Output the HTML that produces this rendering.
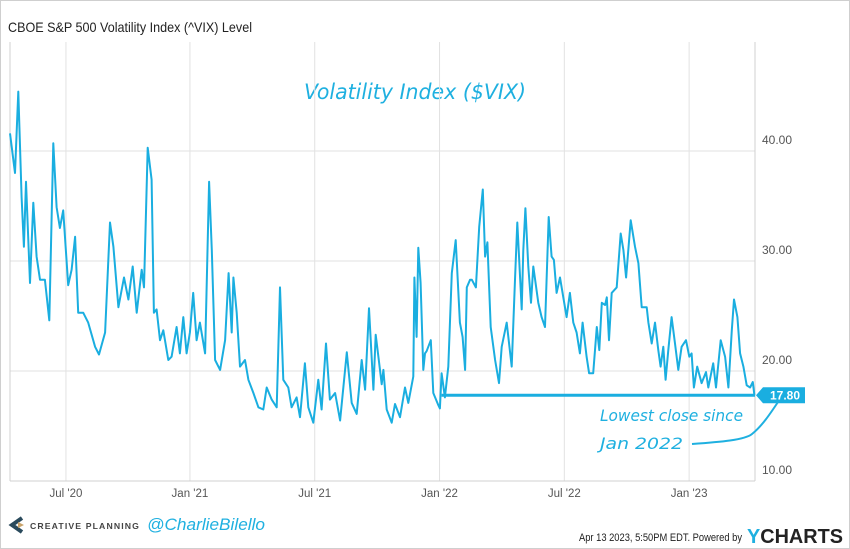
<!DOCTYPE html>
<html><head><meta charset="utf-8"><style>
html,body{margin:0;padding:0;background:#fff}
body{width:850px;height:549px;position:relative;overflow:hidden;font-family:"Liberation Sans",sans-serif}
.frame{position:absolute;left:0;top:0;width:848px;height:547px;border:1px solid #cfcfcf}
</style></head><body>
<div class="frame"></div>
<svg id="chart" width="850" height="549" style="position:absolute;left:0;top:0">
<text x="8" y="32" font-size="14" fill="#222" textLength="244" lengthAdjust="spacingAndGlyphs">CBOE S&amp;P 500 Volatility Index (^VIX) Level</text>
<text x="415" y="99" font-size="21" font-style="italic" fill="#1fb0e0" text-anchor="middle" textLength="222" lengthAdjust="spacingAndGlyphs" font-family="DejaVu Sans, sans-serif">Volatility Index ($VIX)</text>
<g id="grid"></g><g id="series"></g><g id="overlay"></g>
<text x="600" y="421" font-size="16" font-style="italic" fill="#1fb0e0" textLength="143" lengthAdjust="spacingAndGlyphs" font-family="DejaVu Sans, sans-serif">Lowest close since</text>
<text x="600" y="449" font-size="16" font-style="italic" fill="#1fb0e0" textLength="83" lengthAdjust="spacingAndGlyphs" font-family="DejaVu Sans, sans-serif">Jan 2022</text>
<path d="M692 444 C720 442,745 440,752 434 C762 426,770 414,778 402" fill="none" stroke="#1fb0e0" stroke-width="2"/>
<g>
<path d="M22 518 L12 525 L22 532" fill="none" stroke="#2a4a5c" stroke-width="4"/>
<path d="M18 522 L24 525 L18 528Z" fill="#c9a36a"/>
</g>
<text x="30" y="529" font-size="8.5" font-weight="bold" letter-spacing="1.1" fill="#444" textLength="110" lengthAdjust="spacingAndGlyphs">CREATIVE PLANNING</text>
<text x="147" y="530" font-size="17" font-style="italic" fill="#1fb0e0" textLength="118" lengthAdjust="spacingAndGlyphs">@CharlieBilello</text>
<text x="579" y="541" font-size="11" fill="#222" textLength="163" lengthAdjust="spacingAndGlyphs">Apr 13 2023, 5:50PM EDT.  Powered by</text>
<text x="747" y="543" font-size="20" font-weight="bold" fill="#222" textLength="96" lengthAdjust="spacingAndGlyphs"><tspan fill="#1fb0e0">Y</tspan>CHARTS</text>
</svg>
<script>
const months=[0,0.24,0.40,0.56,0.67,0.77,0.96,1.12,1.28,1.44,1.68,1.89,2.08,2.24,2.40,2.56,2.80,2.96,3.13,3.28,3.52,3.76,4.09,4.28,4.57,4.81,4.97,5.21,5.48,5.69,5.90,6.09,6.33,6.44,6.62,6.81,6.92,7.05,7.21,7.37,7.61,7.77,8.01,8.17,8.33,8.49,8.65,8.81,8.97,9.13,9.38,9.57,9.70,9.86,10.10,10.34,10.51,10.66,10.74,10.90,11.06,11.30,11.46,11.70,11.94,12.18,12.34,12.58,12.82,12.98,13.14,13.38,13.54,13.78,13.94,14.18,14.34,14.58,14.82,14.98,15.19,15.38,15.63,15.87,16.19,16.43,16.67,16.91,17.07,17.26,17.47,17.58,17.71,17.87,17.95,18.11,18.35,18.51,18.75,18.99,19.15,19.39,19.44,19.55,19.63,19.74,19.87,19.95,20.03,20.23,20.35,20.59,20.67,20.75,20.91,21.07,21.24,21.43,21.63,21.76,21.88,21.96,22.12,22.20,22.40,22.56,22.73,22.84,22.95,23.11,23.32,23.51,23.64,23.88,24.12,24.28,24.39,24.60,24.68,24.78,24.92,25.05,25.16,25.40,25.56,25.72,25.90,26.04,26.15,26.28,26.44,26.60,26.76,26.92,27.08,27.24,27.40,27.53,27.72,27.84,28.04,28.21,28.33,28.45,28.61,28.69,28.80,28.93,29.17,29.36,29.49,29.62,29.84,30.05,30.21,30.37,30.61,30.69,30.85,31.01,31.17,31.28,31.41,31.52,31.65,31.81,31.97,32.13,32.29,32.50,32.66,32.77,32.88,33.04,33.25,33.46,33.57,33.81,33.94,34.17,34.38,34.54,34.70,34.81,34.97,35.10,35.26,35.42,35.58,35.71,35.79];
const vix=[41.6,38,45.4,35.8,31.3,37.2,28,35.3,30.4,28.3,28.3,24.6,40.7,34.9,33,34.6,27.8,29.2,32.2,25.3,25.3,24.4,22.2,21.5,23.5,33.5,31.3,25.8,28.5,26.5,29.5,25.3,29.2,27.6,40.3,37.4,25.3,25.6,22.8,23.7,21,21.3,24,21.6,24.9,21.6,23.5,27.1,22.8,24.4,21.6,37.2,31,21,20.1,22.8,28.9,23.5,28.5,25.3,20.4,21,19.2,18,16.7,16.5,18.5,17.4,16.7,27.6,19.2,18.5,16.7,17.6,15.8,20.7,16.7,15.3,19.2,16.5,22.5,17.4,18,15.5,21.7,17.1,16.1,21,18.3,25.7,18.3,23.3,21.3,18.8,20.1,16.5,15.3,17,15.8,18.5,17.1,19.5,28.5,23.1,31.2,28,20.1,21.6,21.8,22.8,18,16.9,16.6,19.8,17.6,20.4,28.9,31.9,24.4,23.1,20.1,27.6,28.3,28.3,27.6,33.1,36.5,30.4,31.7,24,21,18.9,22.2,24.4,20.4,28.3,33.5,25.6,31,34.8,29.5,26.2,29.5,26.2,24.9,24,34,30.4,30.1,27.1,28.5,26.7,24.9,27.1,24.4,23.5,21.6,24.4,21.3,19.8,19.8,24,21.9,26.2,26,26.7,22.8,27.1,27.6,32.5,31,28.5,33.7,31.3,29.8,25.8,25.8,24.4,22.5,24.4,21.9,20.4,22.2,19.2,21.9,24.9,22.5,20.1,22.2,22.8,21.3,21.6,18.5,20.4,18.9,19.9,18.5,20.7,18.5,22.8,21.3,18.5,23.7,26.5,24.9,21.6,20.4,18.7,18.5,19,17.8];
const xTickLabels=["Jul '20","Jan '21","Jul '21","Jan '22","Jul '22","Jan '23"];
const xTickMonths=[2.69,8.65,14.65,20.65,26.65,32.65];
const yTicks=[10,20,30,40];
const lowSinceMonth=20.75;

const L=10,R=755,T=42,B=481;
const xS=m=>L+m*20.8;
const yS=v=>B-(v-10)*11;
const NS="http://www.w3.org/2000/svg";
function mk(tag,attrs,parent){const e=document.createElementNS(NS,tag);for(const k in attrs)e.setAttribute(k,attrs[k]);parent.appendChild(e);return e;}
const grid=document.getElementById('grid'),series=document.getElementById('series'),ov=document.getElementById('overlay');

yTicks.forEach(v=>{
  if(v>10){const l=mk('line',{x1:L,x2:R,y1:yS(v),y2:yS(v),stroke:'#e2e2e2','stroke-width':1},grid);
  
  }
  const t=mk('text',{x:762,y:yS(v)-7,'font-size':12,fill:'#555'},grid);
  t.textContent=v.toFixed(2);
  
  
});
xTickMonths.forEach((m,i)=>{
  const l=mk('line',{x1:xS(m),x2:xS(m),y1:T,y2:B,stroke:'#e2e2e2','stroke-width':1},grid);
  
  
  const t=mk('text',{x:xS(m),y:497,'font-size':11.5,fill:'#555','text-anchor':'middle'},grid);
  t.textContent=xTickLabels[i];
  
  
});
const fl=mk('line',{x1:L,x2:L,y1:T,y2:B,stroke:'#d0d0d0'},grid);


const rl=mk('line',{x1:R,x2:R,y1:T,y2:B,stroke:'#d0d0d0'},grid);


const bl=mk('line',{x1:L,x2:R,y1:B,y2:B,stroke:'#d0d0d0'},grid);



const d=months.map((m,i)=>(i?'L':'M')+xS(m).toFixed(1)+' '+yS(vix[i]).toFixed(1)).join(' ');
const p=mk('path',{d:d,fill:'none',stroke:'#1aaee0','stroke-width':2,'stroke-linejoin':'round'},series);



const last=vix[vix.length-1],ly=yS(last);
const hl=mk('line',{x1:xS(lowSinceMonth),x2:R,y1:ly,y2:ly,stroke:'#1aaee0','stroke-width':3},ov);


const tag=mk('path',{d:`M${R+1} ${ly} L${R+8} ${ly-8} L${R+50} ${ly-8} L${R+50} ${ly+8} L${R+8} ${ly+8}Z`,fill:'#1aaee0'},ov);


const tt=mk('text',{x:R+30,y:ly+4.5,'font-size':12,'font-weight':'bold',fill:'#fff','text-anchor':'middle'},ov);
tt.textContent=last.toFixed(2);


</script>
</body></html>
